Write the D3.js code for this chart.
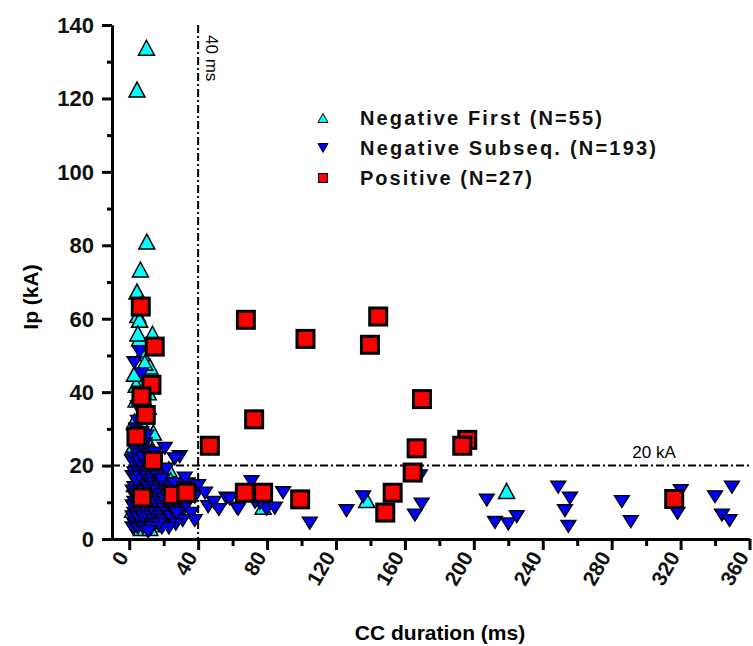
<!DOCTYPE html>
<html><head><meta charset="utf-8">
<script src="https://cdn.jsdelivr.net/npm/d3@7"></script>
<style>body{margin:0;background:#fff} svg{display:block}</style>
</head><body>
<svg id="chart" width="753" height="646"></svg>
<script>
// ---------- data ----------
const negFirst = [
  [10,133.8],[4.5,122.4],[10.2,81],[6.5,73.4],[4.5,67.4],[5,61],[6,59.7],[6,54.7],[13.5,55.9],[7.5,50.6],
  [8,43],[4,38],[3,32],[10.5,27],[9.5,21],[23,19],[16.5,12],[6,5],[137.8,10.6],[219,13.1],
  [77.7,8.8],[4,42],[5,30],[12,47],[11,40],[9,35],[2,25],[3,15],[4,20],[5,10],
  [7,3],[8,8],[9,13],[10,17],[11,5],[12,9],[14,4],[15,14],[16,20],[13,24],
  [18,18],[20,13],[21,7],[24,16],[12,3],[17,6],[6,26],[8,31],[3,45],[5,56],
  [7,64],[9,48],[11,36],[2,8],[14,29]
];
const negSubseq = [
  [2,3],[3,4],[4,5],[5,3],[6,4],[7,5],[8,3],[9,4],[10,6],[11,4],[12,5],[2,6],[3,7],[4,8],[5,6],[6,7],[7,8],[8,6],
  [9,7],[10,9],[11,8],[12,7],[13,6],[14,5],[15,4],[16,6],[2,9],[3,10],[4,11],[5,9],[6,10],[7,12],[8,9],[9,11],
  [10,12],[11,10],[12,11],[13,9],[14,8],[15,7],[16,9],[17,8],[18,6],[19,7],[20,5],[2,13],[3,14],[4,12],[5,15],
  [6,13],[7,14],[8,16],[9,13],[10,15],[11,14],[12,13],[13,12],[14,11],[15,10],[16,12],[17,11],[18,10],[19,9],
  [20,8],[21,10],[22,7],[23,9],[24,6],[25,8],[26,10],[27,7],[28,9],[29,6],[30,8],[2,17],[3,18],[4,16],[5,19],
  [6,17],[7,20],[8,18],[9,19],[10,17],[11,21],[12,18],[13,16],[14,15],[15,14],[16,13],[17,15],[18,14],[19,12],
  [20,11],[21,13],[22,12],[23,11],[24,10],[25,12],[26,13],[28,11],[30,10],[31,12],[33,9],[35,11],[2,21],[3,22],
  [4,24],[5,23],[6,21],[7,25],[8,22],[9,24],[10,20],[12,23],[14,19],[16,17],[18,16],[20,15],[22,14],[24,14],
  [26,15],[3,28],[4,30],[5,32],[6,27],[7,29],[8,34],[5,36],[6,40],[7,45],[3,48],[6,51],[9,26],[10,28],[37,13],
  [34,15],[36,7],[38,5],[31,5],[27,4],[23,3],[19,3],[17,4],[13,3],[11,2],[32,14],
  [20.6,24.7],[29.3,22.4],[26.4,21.8],[14.8,23.4],[21.6,19],[32.2,16.6],[40,14.5],[38,11.4],[45.8,8.8],[56.4,11.1],
  [62.6,8.4],[27.4,7],[18.7,16.1],[71,15.6],[63.2,8.1],[89.3,12.6],[79.7,8.1],[84.5,8.4],[75.8,9.7],[104.8,4.3],
  [126.1,7.7],[135.8,11.5],[168.7,17.2],[169.7,9.5],[165.8,6.5],[207.5,10.6],[58.4,10.9],[212.3,4.5],[220,4.1],[224.9,6.1],
  [249,14.1],[255.8,11.1],[252.9,7.7],[254.9,3.4],[285.9,10.2],[291.1,4.7],[320.1,13.2],[318.2,7],[340,11.5],[349.8,14.1],
  [344,6.5],[348.4,5],[44,12.5],[49,10],[52,8],[67,13],[73,10]
];
const positive = [
  [6.7,63.3],[14.8,52.4],[12.9,42],[7.1,38.8],[9.6,33.8],[4.2,27.9],[13.8,21.3],[7.4,11.3],[25.4,12],[33.2,12.6],
  [46.8,25.4],[67.7,59.7],[144.5,60.6],[102.3,54.5],[139.7,52.9],[169.9,38.1],[72.5,32.6],[166.8,24.7],[196.2,27],[193.3,25.4],
  [164.5,18.1],[67.1,12.6],[77.7,12.6],[99.2,10.8],[152.9,12.6],[148.6,7.2],[316.3,10.9]
];
const xTicks = [0,40,80,120,160,200,240,280,320,360];
const xMinor = [20,60,100,140,180,220,260,300,340];
const yTicks = [0,20,40,60,80,100,120,140];
const yMinor = [10,30,50,70,90,110,130];
const legendLabels = ["Negative First (N=55)","Negative Subseq. (N=193)","Positive (N=27)"];
const refX = 40, refY = 20;

// ---------- chart ----------
const svg = d3.select("#chart");
const x = d3.scaleLinear().domain([-10,360]).range([112,749.5]);
const y = d3.scaleLinear().domain([0,140]).range([539,25]);
const FONT = "Arial, 'Liberation Sans', Helvetica, sans-serif";

// reference lines
svg.append("line").attr("x1",x(refX)).attr("x2",x(refX)).attr("y1",y(140)).attr("y2",y(0))
  .attr("stroke","#000").attr("stroke-width",2).attr("stroke-dasharray","8,3,2,3");
svg.append("line").attr("x1",x(-10)).attr("x2",x(360)).attr("y1",y(refY)).attr("y2",y(refY))
  .attr("stroke","#000").attr("stroke-width",2).attr("stroke-dasharray","8,3,2,3");
svg.append("text").attr("transform",`translate(${x(refX)+8},${y(140)+10}) rotate(90)`)
  .attr("font-family",FONT).attr("font-size",17).attr("fill","#000").text("40 ms");
svg.append("text").attr("x",x(292)).attr("y",y(refY)-8)
  .attr("font-family",FONT).attr("font-size",17).attr("fill","#000").text("20 kA");

// axes
function styleAxis(g){ g.selectAll("path.domain").attr("stroke","#000").attr("stroke-width",3);
  g.selectAll(".tick line").attr("stroke","#000").attr("stroke-width",3); g.selectAll(".tick text").remove(); }
svg.append("g").attr("transform",`translate(0,${y(0)})`)
  .call(d3.axisBottom(x).tickValues(xTicks).tickSize(11).tickSizeOuter(0).tickFormat("")).call(styleAxis);
svg.append("g").attr("transform",`translate(0,${y(0)})`)
  .call(d3.axisBottom(x).tickValues(xMinor).tickSize(7).tickSizeOuter(0).tickFormat("")).call(styleAxis);
svg.append("g").attr("transform",`translate(${x(-10)},0)`)
  .call(d3.axisLeft(y).tickValues(yTicks).tickSize(10).tickSizeOuter(0).tickFormat("")).call(styleAxis);
svg.append("g").attr("transform",`translate(${x(-10)},0)`)
  .call(d3.axisLeft(y).tickValues(yMinor).tickSize(5).tickSizeOuter(0).tickFormat("")).call(styleAxis);

// tick labels
svg.append("g").selectAll("text").data(yTicks).join("text")
  .attr("x",94).attr("y",d=>y(d)).attr("dy","0.36em").attr("text-anchor","end")
  .attr("font-family",FONT).attr("font-weight","bold").attr("font-size",22).attr("fill","#111").text(d=>d);
svg.append("g").selectAll("text").data(xTicks).join("text")
  .attr("transform",d=>`translate(${x(d)},${y(0)+18}) rotate(-60)`).attr("text-anchor","end")
  .attr("font-family",FONT).attr("font-weight","bold").attr("font-size",21).attr("fill","#111").text(d=>d);

// axis titles
svg.append("text").attr("transform",`translate(38,297) rotate(-90)`).attr("text-anchor","middle")
  .attr("font-family",FONT).attr("font-weight","bold").attr("font-size",21).text("Ip (kA)");
svg.append("text").attr("x",440).attr("y",640).attr("text-anchor","middle")
  .attr("font-family",FONT).attr("font-weight","bold").attr("font-size",21).text("CC duration (ms)");

// marker shapes
const triUp = (w,h)=>`M0,${-h/2}L${w/2},${h/2}L${-w/2},${h/2}Z`;
const triDown = (w,h)=>`M0,${h/2}L${w/2},${-h/2}L${-w/2},${-h/2}Z`;

svg.append("g").selectAll("path").data(negFirst).join("path")
  .attr("transform",d=>`translate(${x(d[0])},${y(d[1])})`).attr("d",triUp(16,15))
  .attr("fill","#00ffff").attr("stroke","#000").attr("stroke-width",1.5);
svg.append("g").selectAll("path").data(negSubseq).join("path")
  .attr("transform",d=>`translate(${x(d[0])},${y(d[1])})`).attr("d",triDown(15,12))
  .attr("fill","#0000ff").attr("stroke","#000").attr("stroke-width",1.3);
svg.append("g").selectAll("rect").data(positive).join("rect")
  .attr("x",d=>x(d[0])-8.5).attr("y",d=>y(d[1])-8.5).attr("width",17).attr("height",17)
  .attr("fill","#ff0000").attr("stroke","#000").attr("stroke-width",3);

// legend
const lg = svg.append("g");
const rowsY = [118,148,178];
lg.append("path").attr("transform",`translate(323,${rowsY[0]})`).attr("d",triUp(10,9))
  .attr("fill","#00ffff").attr("stroke","#000").attr("stroke-width",1);
lg.append("path").attr("transform",`translate(323,${rowsY[1]})`).attr("d",triDown(10,9))
  .attr("fill","#0000ff").attr("stroke","#000").attr("stroke-width",1);
lg.append("rect").attr("x",318.5).attr("y",rowsY[2]-4.5).attr("width",9).attr("height",9)
  .attr("fill","#ff0000").attr("stroke","#000").attr("stroke-width",1);
const legW = [242,296,172];
lg.selectAll("text").data(legendLabels).join("text")
  .attr("x",360).attr("y",(d,i)=>rowsY[i]).attr("dy","0.36em")
  .attr("textLength",(d,i)=>legW[i]).attr("lengthAdjust","spacing")
  .attr("font-family",FONT).attr("font-weight","bold").attr("font-size",20).attr("fill","#111").text(d=>d);
</script>
</body></html>
